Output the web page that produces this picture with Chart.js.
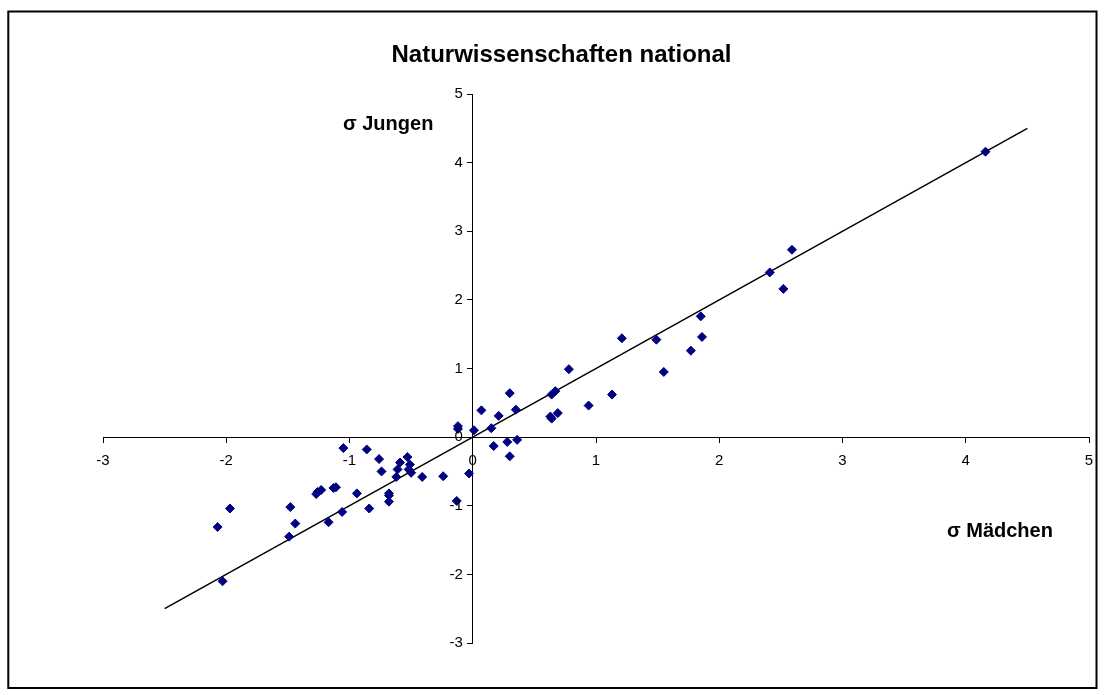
<!DOCTYPE html>
<html lang="de">
<head>
<meta charset="utf-8">
<title>Naturwissenschaften national</title>
<script src="https://cdn.jsdelivr.net/npm/chart.js@4.4.1/dist/chart.umd.min.js"></script>
<style>
  html, body { margin: 0; padding: 0; background: #ffffff; }
  #wrap { position: relative; width: 1104px; height: 695px; }
</style>
</head>
<body>
<div id="wrap"><canvas id="chart" width="1104" height="695"></canvas></div>
<script>
// Standardised scores per unit: girls (x) against boys (y)
const maedchen = [-2.07, -1.97, -2.03, -1.05, -0.86, -0.76, -0.74, -0.53, -0.59, -0.61,
                  -0.62, -0.51, -0.52, -0.50, -0.41, -0.24, -0.03, -0.13, -0.68, -0.68,
                  -0.68, -0.84, -0.94, -1.06, -1.11, -1.13, -1.23, -1.27, -1.26, -1.17,
                  -1.48, -1.44, -1.49, -0.12, -0.12, 0.01, 0.07, 0.15, 0.21, 0.35,
                  0.17, 0.28, 0.36, 0.30, 0.30, 0.63, 0.64, 0.64, 0.67, 0.69,
                  0.78, 0.94, 1.13, 1.55, 1.77, 1.21, 1.49, 1.85, 1.86, 2.41,
                  2.52, 2.59, 4.16];
const jungen   = [-1.31, -1.04, -2.10, -0.16, -0.18, -0.32, -0.50, -0.29, -0.37, -0.47,
                  -0.58, -0.40, -0.47, -0.52, -0.58, -0.57, -0.53, -0.93, -0.82, -0.85,
                  -0.94, -1.04, -0.82, -1.09, -0.73, -0.74, -0.77, -0.83, -0.80, -1.24,
                  -1.02, -1.26, -1.45, 0.16, 0.12, 0.10, 0.39, 0.13, 0.31, 0.40,
                  -0.13, -0.07, -0.04, -0.28, 0.64, 0.30, 0.27, 0.62, 0.67, 0.35,
                  0.99, 0.46, 0.62, 0.95, 1.26, 1.44, 1.42, 1.76, 1.46, 2.40,
                  2.16, 2.73, 4.16];

// Reference line y = x
const lineX = [-2.5, 4.5];
const lineY = [-2.5, 4.5];

// Axis range and tick labels
const axisMin = -3;
const axisMax = 5;
const tickValues = [-3, -2, -1, 0, 1, 2, 3, 4, 5];

const titleText = 'Naturwissenschaften national';
const yAxisName = 'σ Jungen';
const xAxisName = 'σ Mädchen';

const points = maedchen.map((x, i) => ({ x: x, y: jungen[i] }));
const linePoints = lineX.map((x, i) => ({ x: x, y: lineY[i] }));

const fontFamily = '"Liberation Sans", Arial, sans-serif';
const tickFont = { family: fontFamily, size: 15 };

// Frame, title, axis names and the vertical axis tick labels
const frameAndLabels = {
  id: 'frameAndLabels',
  beforeDraw(chart) {
    const ctx = chart.ctx;
    ctx.save();
    ctx.fillStyle = '#ffffff';
    ctx.fillRect(0, 0, chart.width, chart.height);
    ctx.restore();
  },
  afterDraw(chart) {
    const ctx = chart.ctx;
    const xs = chart.scales.x;
    const ys = chart.scales.y;
    ctx.save();
    ctx.strokeStyle = '#000000';
    ctx.lineWidth = 2;
    ctx.strokeRect(8.3, 11.5, 1088.2, 676.5);

    ctx.fillStyle = '#000000';
    ctx.textBaseline = 'alphabetic';
    ctx.font = 'bold 24px ' + fontFamily;
    ctx.textAlign = 'center';
    ctx.fillText(titleText, 561.5, 62);

    ctx.font = 'bold 20px ' + fontFamily;
    ctx.textAlign = 'left';
    ctx.fillText(yAxisName, 343, 130);
    ctx.fillText(xAxisName, 947, 537);

    // y tick labels to the left of the vertical axis
    const axisX = xs.getPixelForValue(0);
    ctx.font = tickFont.size + 'px ' + fontFamily;
    ctx.textAlign = 'right';
    ctx.textBaseline = 'middle';
    tickValues.forEach(v => {
      ctx.fillText(String(v), axisX - 10, ys.getPixelForValue(v));
    });
    ctx.restore();
  }
};

new Chart(document.getElementById('chart'), {
  type: 'scatter',
  data: {
    datasets: [
      {
        label: 'Einheiten',
        data: points,
        pointStyle: 'rectRot',
        pointRadius: 4.5,
        pointHoverRadius: 4.5,
        backgroundColor: '#000080',
        borderColor: '#000080',
        borderWidth: 1,
        order: 1
      },
      {
        label: 'y = x',
        data: linePoints,
        showLine: true,
        pointRadius: 0,
        borderColor: '#000000',
        borderWidth: 1.5,
        fill: false,
        order: 2
      }
    ]
  },
  options: {
    responsive: false,
    animation: false,
    layout: { padding: { left: 103, right: 15, top: 94, bottom: 52 } },
    plugins: {
      legend: { display: false },
      title: { display: false },
      tooltip: { enabled: false }
    },
    scales: {
      x: {
        type: 'linear',
        min: axisMin,
        max: axisMax,
        position: { y: 0 },
        afterBuildTicks(scale) { scale.ticks = tickValues.map(v => ({ value: v })); },
        ticks: { color: '#000000', font: tickFont, padding: 10, autoSkip: false, maxRotation: 0 },
        grid: { display: true, drawOnChartArea: false, drawTicks: true, tickLength: 5, tickColor: '#000000' },
        border: { display: true, color: '#000000', width: 1 }
      },
      y: {
        type: 'linear',
        min: axisMin,
        max: axisMax,
        position: { x: 0 },
        afterBuildTicks(scale) { scale.ticks = tickValues.map(v => ({ value: v })); },
        ticks: { display: false },
        grid: { display: true, drawOnChartArea: false, drawTicks: true, tickLength: 5, tickColor: '#000000' },
        border: { display: true, color: '#000000', width: 1 }
      }
    }
  },
  plugins: [frameAndLabels]
});
</script>
</body>
</html>
